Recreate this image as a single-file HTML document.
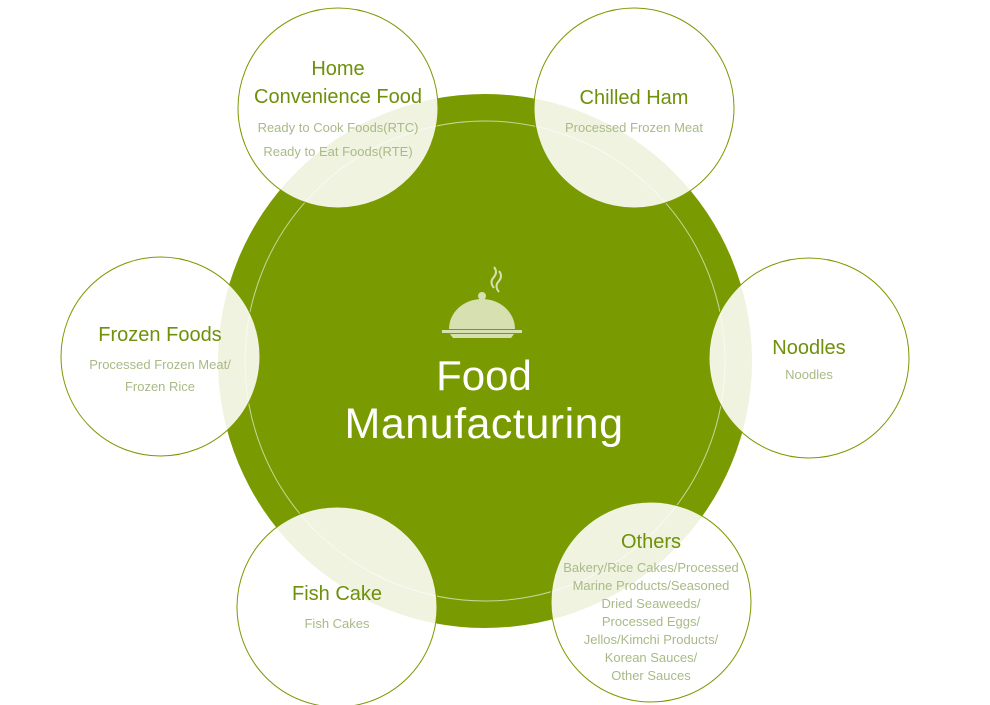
<!DOCTYPE html>
<html><head><meta charset="utf-8"><style>
html,body{margin:0;padding:0;background:#fff}
svg{display:block}
text{font-family:"Liberation Sans",sans-serif;text-anchor:middle}
.t{fill:#6f900b;font-size:20px}
.s{fill:#a9ba86;font-size:13px}
</style></head><body>
<svg width="990" height="705" viewBox="0 0 990 705" xmlns="http://www.w3.org/2000/svg">
<circle cx="485" cy="361" r="267" fill="#7a9a01"/>
<circle cx="485" cy="361" r="240" fill="none" stroke="#c9d69a" stroke-width="1"/>
<g fill="#d6e0b0">
<path d="M494 288 q-5 -6 0 -11 q4 -5 0 -10" fill="none" stroke="#d6e0b0" stroke-width="2"/>
<path d="M499 292 q-5 -6 0 -11 q4 -5 0 -10" fill="none" stroke="#d6e0b0" stroke-width="2"/>
<circle cx="482" cy="296" r="4"/>
<path d="M449 329 a33 30 0 0 1 66 0 z"/>
<rect x="442" y="330" width="80" height="3"/>
<path d="M450 334 h64 l-3 4 h-58 z"/>
</g>
<text x="484" y="390" fill="#fff" style="font-size:42px">Food</text>
<text x="484" y="438" fill="#fff" style="font-size:43px;letter-spacing:0.5px">Manufacturing</text>
<g fill="rgba(255,255,255,0.88)" stroke="#7a9a01" stroke-width="1">
<circle cx="338" cy="108" r="100"/>
<circle cx="634" cy="108" r="100"/>
<circle cx="160.5" cy="356.5" r="99.5"/>
<circle cx="809" cy="358" r="100"/>
<circle cx="337" cy="607" r="100"/>
<circle cx="651" cy="602" r="100"/>
</g>
<text class="t" x="338" y="75">Home</text>
<text class="t" x="338" y="103">Convenience Food</text>
<text class="s" x="338" y="132">Ready to Cook Foods(RTC)</text>
<text class="s" x="338" y="156">Ready to Eat Foods(RTE)</text>
<text class="t" x="634" y="104">Chilled Ham</text>
<text class="s" x="634" y="132">Processed Frozen Meat</text>
<text class="t" x="160" y="341">Frozen Foods</text>
<text class="s" x="160" y="369">Processed Frozen Meat/</text>
<text class="s" x="160" y="391">Frozen Rice</text>
<text class="t" x="809" y="354">Noodles</text>
<text class="s" x="809" y="379">Noodles</text>
<text class="t" x="337" y="600">Fish Cake</text>
<text class="s" x="337" y="628">Fish Cakes</text>
<text class="t" x="651" y="548">Others</text>
<text class="s" x="651" y="572">Bakery/Rice Cakes/Processed</text>
<text class="s" x="651" y="590">Marine Products/Seasoned</text>
<text class="s" x="651" y="608">Dried Seaweeds/</text>
<text class="s" x="651" y="626">Processed Eggs/</text>
<text class="s" x="651" y="644">Jellos/Kimchi Products/</text>
<text class="s" x="651" y="662">Korean Sauces/</text>
<text class="s" x="651" y="680">Other Sauces</text>
</svg>
</body></html>
